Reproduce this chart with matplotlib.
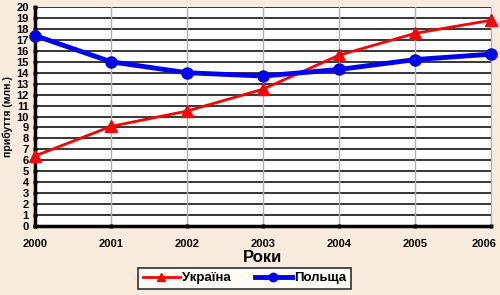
import matplotlib.pyplot as plt
from matplotlib.transforms import ScaledTranslation

years = [2000, 2001, 2002, 2003, 2004, 2005, 2006]
ukraine = [6.4, 9.1, 10.5, 12.5, 15.6, 17.6, 18.8]
poland = [17.4, 15.0, 14.0, 13.7, 14.3, 15.2, 15.7]

plt.rcParams['font.family'] = ['Liberation Sans', 'DejaVu Sans']
plt.rcParams['font.weight'] = 'bold'
plt.rcParams['axes.labelweight'] = 'bold'

fig = plt.figure(figsize=(5, 2.95), dpi=100, facecolor='#faebdf')
ax = fig.add_axes([0.07, 0.234, 0.912, 0.742])
ax.set_facecolor('white')

# сітка
for v in range(0, 21):
    ax.axhline(v, color='black', lw=1.1, zorder=1)
for yr in years[1:]:
    ax.axvline(yr, color='#b0b0b0', lw=1.0, zorder=1)

ax.plot(years, ukraine, color='#ff0000', lw=2, marker='^', ms=8, label='Україна', zorder=3, clip_on=False)
ax.plot(years, poland, color='#0000ee', lw=3.5, marker='o', ms=8, label='Польща', zorder=4, clip_on=False)

ax.set_xlim(2000, 2006)
ax.set_ylim(0, 20)
ax.set_xticks(years)
ax.set_yticks(range(0, 21))
ax.tick_params(axis='both', labelsize=8, width=2.5, length=3, direction='inout', pad=3)
ax.tick_params(axis='x', pad=8)
for s in ['left', 'bottom']:
    ax.spines[s].set_linewidth(2.5)
ax.spines['top'].set_visible(False)
ax.spines['right'].set_color('#b0b0b0')

last = ax.get_xticklabels()[-1]
last.set_transform(last.get_transform() + ScaledTranslation(-5 / 72, 0, fig.dpi_scale_trans))

ax.set_xlabel('Роки', fontsize=12, labelpad=0.5)
ax.set_ylabel('прибуття (млн.)', fontsize=7.5, labelpad=2)

leg = ax.legend(loc='upper center', bbox_to_anchor=(0.46, -0.19), borderaxespad=0,
                ncol=2, fontsize=9.5, markerscale=0.75,
                frameon=True, fancybox=False, edgecolor='black', borderpad=0.35,
                handlelength=2.8, columnspacing=1.8, handletextpad=0.2)
leg.get_frame().set_linewidth(1.2)

fig.savefig('out.png', dpi=100, facecolor=fig.get_facecolor())
